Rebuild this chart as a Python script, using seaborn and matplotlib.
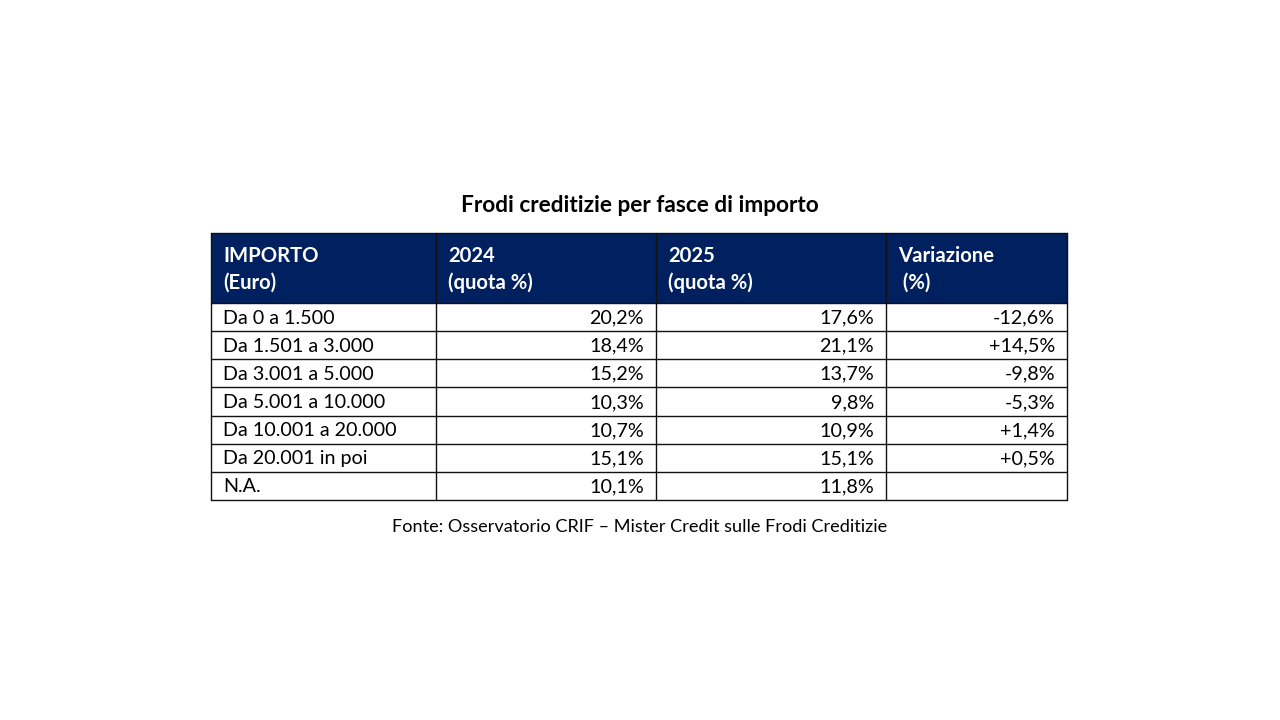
import matplotlib.pyplot as plt
import seaborn as sns
from matplotlib.patches import Rectangle

# table data
header = ["IMPORTO\n(Euro)", "2024\n(quota %)", "2025\n(quota %)", "Variazione\n (%)"]
fasce = [
    "Da 0 a 1.500",
    "Da 1.501 a 3.000",
    "Da 3.001 a 5.000",
    "Da 5.001 a 10.000",
    "Da 10.001 a 20.000",
    "Da 20.001 in poi",
    "N.A.",
]
quota_2024 = ["20,2%", "18,4%", "15,2%", "10,3%", "10,7%", "15,1%", "10,1%"]
quota_2025 = ["17,6%", "21,1%", "13,7%", "9,8%", "10,9%", "15,1%", "11,8%"]
variazione = ["-12,6%", "+14,5%", "-9,8%", "-5,3%", "+1,4%", "+0,5%", ""]

title = "Frodi creditizie per fasce di importo"
source = "Fonte: Osservatorio CRIF \u2013 Mister Credit sulle Frodi Creditizie"

sns.set_theme(style="white")
plt.rcParams["font.family"] = ["Lato", "DejaVu Sans"]

NAVY = "#002060"
col_edges = [211, 436, 656, 886, 1067]
head_top, head_bot = 233, 303
row_h = 28.15
pad = 12

fig = plt.figure(figsize=(12.8, 7.2), dpi=100)
ax = fig.add_axes([0, 0, 1, 1])
ax.set_xlim(0, 1280)
ax.set_ylim(720, 0)
ax.axis("off")

ax.text(640, 205, title, ha="center", va="center", fontsize=16.3,
        fontweight="bold", color="#000000")

# header
ax.add_patch(Rectangle((col_edges[0], head_top), col_edges[-1] - col_edges[0],
                       head_bot - head_top, facecolor=NAVY, edgecolor="none"))
for j, label in enumerate(header):
    l1, l2 = label.split("\n")
    ax.text(col_edges[j] + pad, 256, l1, ha="left", va="center", fontsize=14.6,
            fontweight="bold", color="white")
    ax.text(col_edges[j] + pad, 283, l2, ha="left", va="center", fontsize=14.6,
            fontweight="bold", color="white")

# body
columns = [fasce, quota_2024, quota_2025, variazione]
n_rows = len(fasce)
for i in range(n_rows):
    y0 = head_bot + i * row_h
    yc = y0 + row_h / 2 + 1
    for j, col in enumerate(columns):
        if j == 0:
            ax.text(col_edges[j] + pad, yc, col[i], ha="left", va="center",
                    fontsize=14.2, color="#000000")
        else:
            ax.text(col_edges[j + 1] - pad, yc, col[i], ha="right", va="center",
                    fontsize=14.2, color="#000000")

# grid lines
bottom = head_bot + n_rows * row_h
for i in range(n_rows + 1):
    y = head_bot + i * row_h
    ax.plot([col_edges[0], col_edges[-1]], [y, y], color="#111111", lw=1)
ax.plot([col_edges[0], col_edges[-1]], [head_top, head_top], color="#111111", lw=1)
for x in col_edges:
    ax.plot([x, x], [head_top, bottom], color="#111111", lw=1)

ax.text(640, 527, source, ha="center", va="center", fontsize=13.1, color="#000000")

fig.savefig("out.png", dpi=100)
